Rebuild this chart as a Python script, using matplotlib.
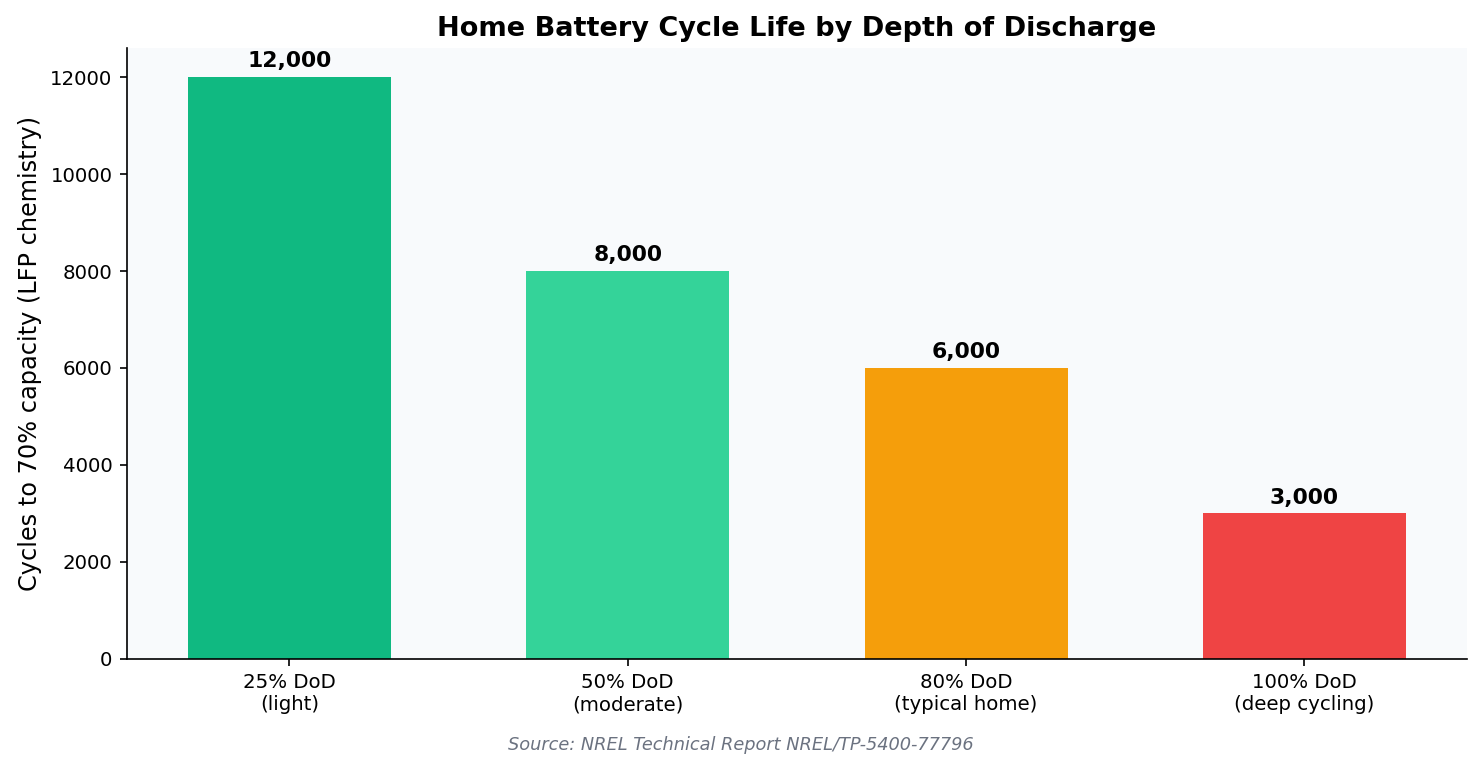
import matplotlib
matplotlib.use("Agg")
import matplotlib.pyplot as plt

categories = ["25% DoD\n(light)", "50% DoD\n(moderate)", "80% DoD\n(typical home)", "100% DoD\n(deep cycling)"]
cycles = [12000, 8000, 6000, 3000]
colors = ["#10b981", "#34d399", "#f59e0b", "#ef4444"]

fig = plt.figure(figsize=(9.88, 5.1667), dpi=150)
ax = fig.add_axes([0.0857, 0.150, 0.904, 0.788])
ax.set_facecolor("#f8fafc")
x = range(len(categories))
bars = ax.bar(x, cycles, width=0.6, color=colors)
for b, v in zip(bars, cycles):
    ax.text(b.get_x() + b.get_width() / 2, v + 120, f"{v:,}", ha="center", va="bottom",
            fontsize=10.5, fontweight="bold")
ax.set_xticks(list(x))
ax.set_xticklabels(categories, fontsize=9.5)
ax.tick_params(axis="y", labelsize=9.5)
ax.set_xlim(-0.48, 3.48)
ax.set_ylim(0, 12600)
ax.set_ylabel("Cycles to 70% capacity (LFP chemistry)", fontsize=11.5)
ax.set_title("Home Battery Cycle Life by Depth of Discharge", fontsize=13, fontweight="bold", pad=6)
for s in ["top", "right"]:
    ax.spines[s].set_visible(False)
fig.text(0.5, 0.032, "Source: NREL Technical Report NREL/TP-5400-77796", ha="center",
         fontsize=8.5, style="italic", color="#6b7280")
fig.savefig("out.png", dpi=150)
